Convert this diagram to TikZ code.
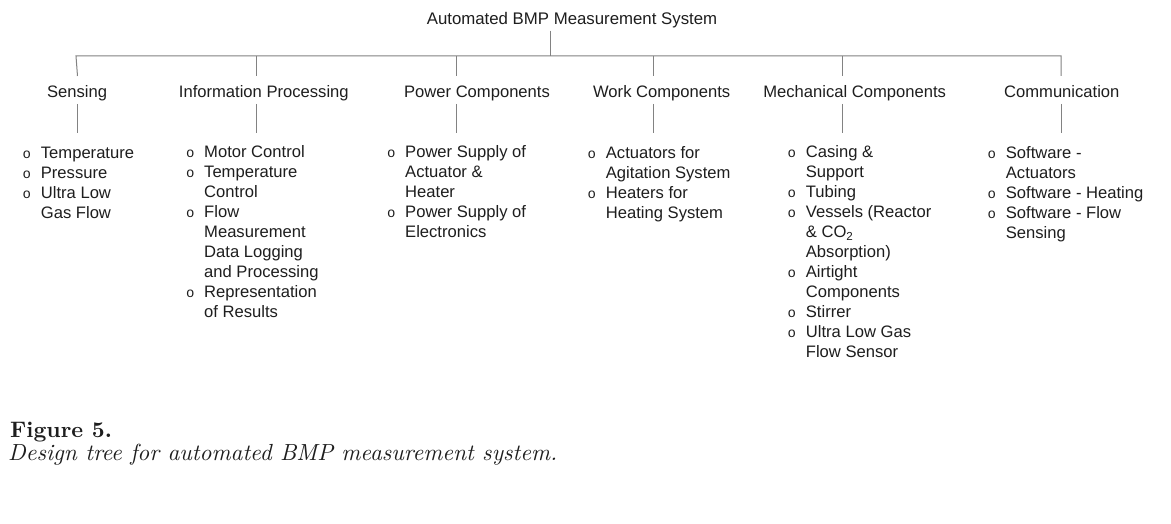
\documentclass[tikz,border=0pt]{standalone}
\usepackage{fontspec}
\usepackage{graphicx}
\newfontfamily\arialf{Liberation Sans}
\newfontfamily\monof{Liberation Mono}
\definecolor{txt}{RGB}{30,30,30}
\definecolor{ln}{RGB}{130,130,130}
\newcommand\bl{\makebox[10pt][c]{\monof\fontsize{14}{20}\selectfont o}}
\tikzset{
  diag/.style={inner sep=0pt, text=txt, font=\arialf\fontsize{16.6}{20}\selectfont},
  cat/.style={diag, anchor=base},
  lst/.style={diag, anchor=base west},
  conn/.style={draw=ln, line width=1pt},
}
\newcommand\blist[1]{\begin{tabular}[t]{@{}c@{\hspace{9pt}}l@{}}#1\end{tabular}}
\begin{document}
\begin{tikzpicture}[x=1pt,y=-1pt]
\useasboundingbox (0,0) rectangle (1171,524);
\fill[white] (0,0) rectangle (1171,524);
% root
\node[cat, font=\arialf\fontsize{16.8}{20}\selectfont] (root) at (572,25) {Automated BMP Measurement System};
% categories
\node[cat] (c1) at (77,97.5) {Sensing};
\node[cat] (c2) at (263.8,97.5) {Information Processing};
\node[cat] (c3) at (477,97.5) {Power Components};
\node[cat] (c4) at (661.7,97.5) {Work Components};
\node[cat] (c5) at (854.7,97.5) {Mechanical Components};
\node[cat] (c6) at (1061.8,97.5) {Communication};
% junction coordinates
\coordinate (rt) at (550,30.7);
\coordinate (rb) at (550,56);
\foreach \n/\x/\xb in {1/76/77.5,2/256.7/256.7,3/456/456,4/653.3/653.3,5/842.7/842.7,6/1061/1061}{
  \coordinate (t\n) at (\x,56);
  \coordinate (u\n) at (\xb,76);
  \coordinate (v\n) at (\xb,104);
  \coordinate (w\n) at (\xb,133.3);
}
% lists
\node[lst] (l1) at (40.7-19,159) {\blist{\bl & Temperature\\ \bl & Pressure\\ \bl & Ultra Low\\ & Gas Flow}};
\node[lst] (l2) at (204-19,157.5) {\blist{\bl & Motor Control\\ \bl & Temperature\\ & Control\\ \bl & Flow\\ & Measurement\\ & Data Logging\\ & and Processing\\ \bl & Representation\\ & of Results}};
\node[lst] (l3) at (405-19,157.5) {\blist{\bl & Power Supply of\\ & Actuator \&\\ & Heater\\ \bl & Power Supply of\\ & Electronics}};
\node[lst] (l4) at (605.7-19,159) {\blist{\bl & Actuators for\\ & Agitation System\\ \bl & Heaters for\\ & Heating System}};
\node[lst] (l5) at (805.7-19,157.5) {\blist{\bl & Casing \&\\ & Support\\ \bl & Tubing\\ \bl & Vessels (Reactor\\ & \& CO\textsubscript{2}\\ & Absorption)\\ \bl & Airtight\\ & Components\\ \bl & Stirrer\\ \bl & Ultra Low Gas\\ & Flow Sensor}};
\node[lst] (l6) at (1005.7-19,159) {\blist{\bl & Software -\\ & Actuators\\ \bl & Software - Heating\\ \bl & Software - Flow\\ & Sensing}};
% connectors
\draw[conn] (rt) -- (rb);
\draw[conn] (u1) -- (t1) -- (t6) -- (u6);
\foreach \n in {2,3,4,5}{\draw[conn] (t\n) -- (u\n);}
\foreach \n in {1,...,6}{\draw[conn] (v\n) -- (w\n);}
% caption
\node[anchor=base west, inner sep=0pt, text=txt] (fig) at (10,437.5) {\resizebox{101.7pt}{!}{\bfseries Figure 5.}};
\node[anchor=base west, inner sep=0pt, text=txt] (cap) at (8,460) {\resizebox{549pt}{!}{\itshape Design tree for automated BMP measurement system.}};
\end{tikzpicture}
\end{document}
